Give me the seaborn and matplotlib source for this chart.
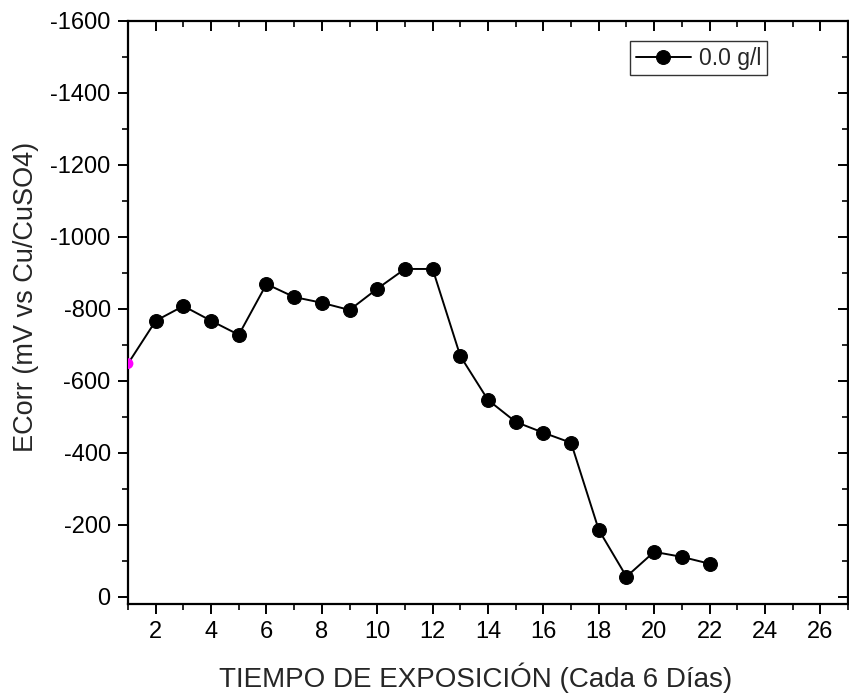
import matplotlib
matplotlib.use("Agg")
import matplotlib.pyplot as plt
import seaborn as sns
import pandas as pd
from matplotlib.ticker import MultipleLocator

dias = [1, 2, 3, 4, 5, 6, 7, 8, 9, 10, 11, 12, 13, 14, 15, 16, 17, 18, 19, 20, 21, 22]
ecorr = [-648, -767, -808, -767, -728, -869, -833, -817, -797, -856, -911, -911,
         -669, -547, -486, -456, -428, -186, -56, -125, -111, -92]
serie = "0.0 g/l"

sns.set_style("ticks")
plt.rcParams['font.family'] = ['Liberation Sans', 'DejaVu Sans']
plt.rcParams['axes.unicode_minus'] = False

df = pd.DataFrame({"x": dias, "y": ecorr})

fig = plt.figure(figsize=(8.49, 6.93), dpi=100)
ax = fig.add_axes([0.1508, 0.1284, 0.8480, 0.8413])

sns.lineplot(data=df, x="x", y="y", ax=ax, color="black", linewidth=1.4,
             marker="o", markersize=10, markeredgecolor="black",
             markevery=list(range(1, len(dias))), label=serie)
sns.scatterplot(x=dias[:1], y=ecorr[:1], ax=ax, color="magenta", s=60,
                edgecolor="none", zorder=5)

ax.set_xlim(1, 27)
ax.set_ylim(20, -1600)
ax.xaxis.set_major_locator(MultipleLocator(2))
ax.xaxis.set_minor_locator(MultipleLocator(1))
ax.yaxis.set_major_locator(MultipleLocator(200))
ax.yaxis.set_minor_locator(MultipleLocator(100))
ax.set_xticks(range(2, 27, 2))

ax.tick_params(axis="both", which="major", direction="out", length=7.5, width=1.4,
               labelsize=17, colors="black", pad=5)
ax.tick_params(axis="both", which="minor", direction="out", length=4, width=1.4)
ax.tick_params(top=True, right=True, which="both")
ax.tick_params(axis="x", which="major", top=True, labeltop=False)

# top/right ticks point inward
for t in ax.xaxis.get_major_ticks() + ax.xaxis.get_minor_ticks():
    t.tick2line.set_marker(3)
for t in ax.yaxis.get_major_ticks() + ax.yaxis.get_minor_ticks():
    t.tick2line.set_marker(0)

for sp in ax.spines.values():
    sp.set_linewidth(1.6)
    sp.set_color("black")

ax.set_xlabel("TIEMPO DE EXPOSICIÓN (Cada 6 Días)", fontsize=20, labelpad=14)
ax.set_ylabel("ECorr (mV vs Cu/CuSO4)", fontsize=19.5, labelpad=8)
ax.xaxis.label.set_x(0.483)
ax.yaxis.label.set_y(0.527)

leg = ax.legend(loc="upper right", bbox_to_anchor=(0.8875, 0.966), fontsize=16.5,
                frameon=True, fancybox=False, edgecolor="black", handlelength=2.4,
                borderpad=0.25, handletextpad=0.35, borderaxespad=0)
leg.get_frame().set_linewidth(1.0)

fig.savefig("out.png", dpi=100)
